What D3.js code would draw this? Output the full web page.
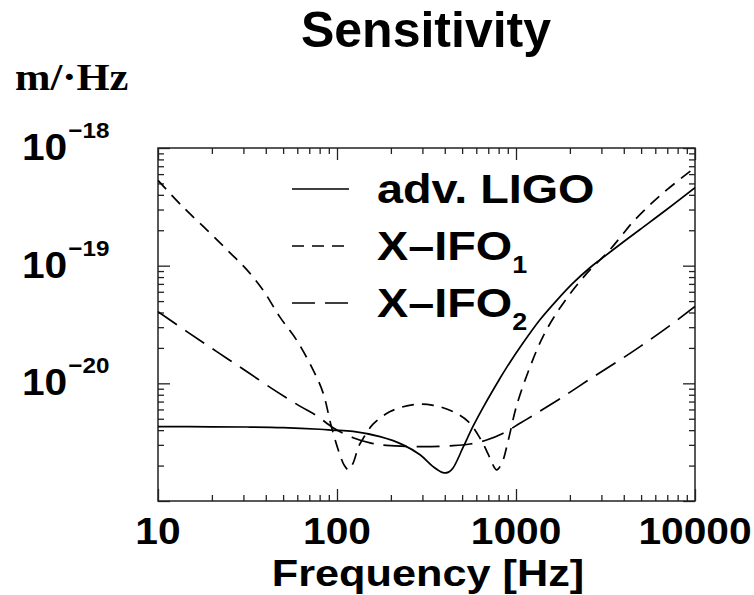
<!DOCTYPE html>
<html>
<head>
<meta charset="utf-8">
<script src="https://cdn.jsdelivr.net/npm/d3@7"></script>
<style>
  html, body { margin: 0; padding: 0; background: #fff; }
  svg { display: block; }
  .lbl { font-family: "Liberation Sans", Arial, Helvetica, sans-serif; font-weight: bold; fill: #000; }
  .serif { font-family: "Liberation Serif", "Times New Roman", serif; font-weight: bold; fill: #000; }
</style>
</head>
<body>
<svg id="chart" width="754" height="595"></svg>
<script>
'use strict';

// ── Data ─────────────────────────────────────────────────────────────────
const ligoFreq = [10, 20, 32.7, 50, 80, 95, 123, 174, 234, 291, 344, 391, 420, 445, 506, 575, 665, 813, 891, 1094, 1361, 1694, 2080, 2588, 2944, 3890, 4930, 6950, 10000];
const ligoAmp  = [4.29e-21, 4.27e-21, 4.25e-21, 4.2e-21, 4.07e-21, 4.0e-21, 3.9e-21, 3.52e-21, 3.0e-21, 2.47e-21, 1.96e-21, 1.74e-21, 1.76e-21, 1.91e-21, 2.85e-21, 4.3e-21, 6.5e-21, 1.1e-20, 1.38e-20, 2.2e-20, 3.47e-20, 5.1e-20, 7.1e-20, 9.6e-20, 1.12e-19, 1.55e-19, 2.03e-19, 3.0e-19, 4.6e-19];

const ifo1Freq = [10, 13.8, 19.5, 25.2, 31.4, 38.6, 47.9, 59.8, 73.5, 83.6, 93, 103, 110, 116, 123, 132, 140, 159, 198, 268, 345, 444, 543, 631, 699, 740, 780, 834, 906, 1009, 1198, 1415, 1694, 2080, 2588, 3221, 3800, 4426, 5610, 6950, 9340, 10000];
const ifo1Amp  = [5.3e-19, 3.15e-19, 1.9e-19, 1.29e-19, 9.2e-20, 6.2e-20, 3.67e-20, 2.3e-20, 1.3e-20, 8.3e-21, 4.3e-21, 2.56e-21, 2.0e-21, 1.84e-21, 2.1e-21, 2.9e-21, 3.4e-21, 4.5e-21, 5.75e-21, 6.6e-21, 6.5e-21, 5.75e-21, 4.7e-21, 3.4e-21, 2.5e-21, 2.05e-21, 1.84e-21, 2.1e-21, 3.3e-21, 6.5e-21, 1.38e-20, 2.5e-20, 4.0e-20, 6.2e-20, 9.2e-20, 1.28e-19, 1.72e-19, 2.29e-19, 3.3e-19, 4.4e-19, 6.3e-19, 6.8e-19];

const ifo2Freq = [10, 14.5, 21.3, 31.3, 46, 62, 77, 95, 123, 153, 189, 291, 445, 553, 685, 849, 1052, 1303, 1832, 2692, 3811, 4930, 7244, 10000];
const ifo2Amp  = [4.07e-20, 2.75e-20, 1.86e-20, 1.26e-20, 8.5e-21, 6.4e-21, 5.3e-21, 4.2e-21, 3.45e-21, 3.12e-21, 2.97e-21, 2.9e-21, 2.95e-21, 3.05e-21, 3.3e-21, 3.77e-21, 4.57e-21, 5.57e-21, 7.7e-21, 1.13e-20, 1.58e-20, 2.05e-20, 3.1e-20, 4.5e-20];

const seriesNames = ['adv. LIGO', 'X\u2013IFO', 'X\u2013IFO'];
const seriesSubs  = ['', '1', '2'];
const xTickLabels = ['10', '100', '1000', '10000'];
const yTickExps   = ['\u221218', '\u221219', '\u221220'];

// ── Layout ───────────────────────────────────────────────────────────────
const svg = d3.select('#chart');
const plot = { left: 158, right: 695, top: 148, bottom: 501 };

const x = d3.scaleLog().domain([10, 10000]).range([plot.left, plot.right]);
const y = d3.scaleLog().domain([1e-21, 1e-18]).range([plot.bottom, plot.top]);

const isMajor = v => Math.abs(Math.log10(v) - Math.round(Math.log10(v))) < 1e-6;
const xMinor = x.ticks().filter(v => !isMajor(v));
const xMajor = x.ticks().filter(isMajor);
const yMinor = y.ticks().filter(v => !isMajor(v));
const yMajor = y.ticks().filter(isMajor);

// lettering in the original is a bit wider than plain Helvetica
function stretched(sel, px, py, sx) {
  return sel.attr('transform', `translate(${px},${py}) scale(${sx},1)`);
}

// ── Title and unit ───────────────────────────────────────────────────────
svg.append('text').attr('class', 'lbl')
  .attr('x', 426).attr('y', 47).attr('text-anchor', 'middle')
  .attr('font-size', 50).text('Sensitivity');

stretched(svg.append('text').attr('class', 'serif').attr('font-size', 38), 15, 90, 1.12)
  .text('m/\u00b7Hz');

// ── Axes (ticks pointing inward on all four sides) ───────────────────────
function tickAxis(axisFn, scale, values, size, tx, ty) {
  svg.append('g')
    .attr('transform', `translate(${tx},${ty})`)
    .call(axisFn(scale).tickValues(values).tickSize(size).tickFormat(''))
    .call(g => g.select('.domain').remove())
    .call(g => g.selectAll('line').attr('stroke', '#222').attr('stroke-width', 1.3));
}
tickAxis(d3.axisBottom, x, xMinor, -6, 0, plot.bottom);
tickAxis(d3.axisBottom, x, xMajor, -12, 0, plot.bottom);
tickAxis(d3.axisTop, x, xMinor, -6, 0, plot.top);
tickAxis(d3.axisTop, x, xMajor, -12, 0, plot.top);
tickAxis(d3.axisLeft, y, yMinor, -6, plot.left, 0);
tickAxis(d3.axisLeft, y, yMajor, -12, plot.left, 0);
tickAxis(d3.axisRight, y, yMinor, -6, plot.right, 0);
tickAxis(d3.axisRight, y, yMajor, -12, plot.right, 0);

svg.append('rect')
  .attr('x', plot.left).attr('y', plot.top)
  .attr('width', plot.right - plot.left).attr('height', plot.bottom - plot.top)
  .attr('fill', 'none').attr('stroke', '#222').attr('stroke-width', 1.5);

// x tick labels
xMajor.forEach((v, i) => {
  stretched(svg.append('text').attr('class', 'lbl').attr('font-size', 37).attr('text-anchor', 'middle'),
    x(v), 544, 1.1).text(xTickLabels[i]);
});

// y tick labels (10 with superscript exponent), top to bottom
const yLabelVals = yMajor.slice().sort((a, b) => b - a).slice(0, yTickExps.length);
yLabelVals.forEach((v, i) => {
  const t = stretched(svg.append('text').attr('class', 'lbl').attr('font-size', 37), 22, y(v) + 12, 1.1);
  t.append('tspan').text('10');
  t.append('tspan').attr('font-size', 22).attr('dy', -22).attr('dx', 1).text(yTickExps[i]);
});

// x axis title
stretched(svg.append('text').attr('class', 'lbl').attr('font-size', 37).attr('text-anchor', 'middle'),
  428, 586, 1.17).text('Frequency [Hz]');

// ── Curves ───────────────────────────────────────────────────────────────
svg.append('clipPath').attr('id', 'clip')
  .append('rect')
  .attr('x', plot.left).attr('y', plot.top)
  .attr('width', plot.right - plot.left).attr('height', plot.bottom - plot.top);

const line = d3.line()
  .x(d => x(d[0]))
  .y(d => y(d[1]))
  .curve(d3.curveCatmullRom.alpha(0.5));

const series = [
  { f: ligoFreq, a: ligoAmp, dash: null },
  { f: ifo1Freq, a: ifo1Amp, dash: '12,8' },
  { f: ifo2Freq, a: ifo2Amp, dash: '23,10' },
];

const curves = svg.append('g').attr('clip-path', 'url(#clip)');
series.forEach(s => {
  curves.append('path')
    .datum(d3.zip(s.f, s.a))
    .attr('d', line)
    .attr('fill', 'none')
    .attr('stroke', '#000')
    .attr('stroke-width', 1.7)
    .attr('stroke-dasharray', s.dash);
});

// ── Legend ───────────────────────────────────────────────────────────────
const legend = { x1: 292, x2: 349, textX: 377, y0: 189, step: 57 };
series.forEach((s, i) => {
  const ly = legend.y0 + i * legend.step;
  svg.append('line')
    .attr('x1', legend.x1).attr('x2', legend.x2)
    .attr('y1', ly).attr('y2', ly)
    .attr('stroke', '#000').attr('stroke-width', 1.7)
    .attr('stroke-dasharray', s.dash);
  const t = stretched(svg.append('text').attr('class', 'lbl').attr('font-size', 40), legend.textX, ly + 14, 1.17);
  t.append('tspan').text(seriesNames[i]);
  if (seriesSubs[i]) {
    t.append('tspan').attr('font-size', 23).attr('dy', 13).attr('dx', 0).text(seriesSubs[i]);
  }
});
</script>
</body>
</html>
